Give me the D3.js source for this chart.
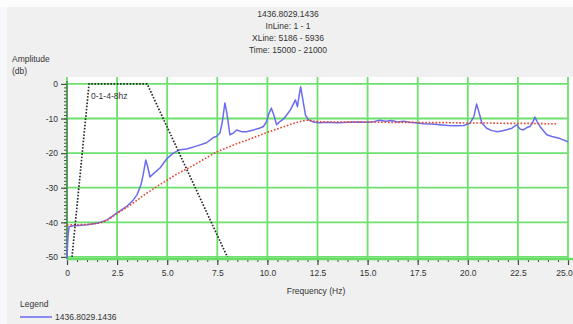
<!DOCTYPE html>
<html>
<head>
<meta charset="utf-8">
<script src="https://cdn.jsdelivr.net/npm/d3@7/dist/d3.min.js"></script>
<style>
  html, body { margin: 0; padding: 0; background: #f0f0f0; }
  svg { display: block; }
  text { font-family: "Liberation Sans", Arial, sans-serif; fill: #333; }
</style>
</head>
<body>
<svg id="chart" width="573" height="324"></svg>
<script>
// Header lines
const titleLines = ["1436.8029.1436", "InLine: 1 - 1", "XLine: 5186 - 5936", "Time: 15000 - 21000"];
const seriesName = "1436.8029.1436";
const filterLabel = "0-1-4-8hz";

// Tick values
const xTicks = [0, 2.5, 5.0, 7.5, 10.0, 12.5, 15.0, 17.5, 20.0, 22.5, 25.0];
const xTickLabels = ["0", "2.5", "5.0", "7.5", "10.0", "12.5", "15.0", "17.5", "20.0", "22.5", "25.0"];
const yTicks = [0, -10, -20, -30, -40, -50];
const yTickLabels = ["0", "-10", "-20", "-30", "-40", "-50"];

// Bandpass filter outline (Hz, dB)
const filterFreq = [0.25, 1.1, 4.0, 8.0];
const filterAmp = [-50, 0, 0, -50];

// Smoothed spectrum (Hz, dB)
const smoothFreq = [0, 0.5, 1.0, 1.5, 1.75, 2.0, 2.5, 3.0, 3.5, 4.0, 4.5, 5.0, 5.5, 6.0, 6.5, 7.0, 7.5, 8.0, 8.5, 9.0, 9.5, 10.0, 10.5, 11.0, 11.5, 12.0, 12.5, 13.0, 14.0, 15.0, 16.0, 17.0, 18.0, 19.0, 20.0, 21.0, 22.0, 23.0, 24.0, 24.5];
const smoothAmp = [-40.8, -40.7, -40.6, -40.3, -40.0, -39.4, -37.4, -35.6, -33.6, -31.5, -29.6, -27.8, -26.0, -24.5, -22.9, -21.2, -19.6, -18.4, -17.2, -16.2, -15.1, -14.0, -13.0, -12.0, -11.1, -10.5, -10.9, -11.0, -11.0, -11.0, -11.1, -11.1, -11.2, -11.2, -11.3, -11.3, -11.4, -11.4, -11.5, -11.5];

// Measured amplitude spectrum (Hz, dB)
const specFreq = [0, 0.05, 0.1, 0.3, 0.6, 1.0, 1.5, 2.0, 2.5, 3.0, 3.3, 3.5, 3.7, 3.8, 3.93, 4.02, 4.14, 4.3, 4.64, 5.0, 5.3, 5.64, 5.97, 6.5, 6.96, 7.3, 7.45, 7.63, 7.75, 7.88, 7.98, 8.13, 8.3, 8.47, 8.7, 8.97, 9.3, 9.6, 9.8, 9.95, 10.08, 10.2, 10.32, 10.46, 10.6, 10.8, 10.96, 11.15, 11.4, 11.5, 11.58, 11.66, 11.78, 11.9, 12.05, 12.3, 12.6, 13.0, 13.5, 14.0, 14.5, 15.0, 15.3, 15.6, 15.9, 16.2, 16.5, 16.8, 17.1, 17.4, 17.8, 18.2, 18.6, 19.0, 19.4, 19.8, 20.1, 20.3, 20.44, 20.55, 20.7, 20.94, 21.2, 21.5, 21.9, 22.2, 22.44, 22.6, 22.76, 22.95, 23.1, 23.25, 23.35, 23.45, 23.6, 23.94, 24.2, 24.6, 25.0];
const specAmp = [-50.5, -44.0, -41.3, -41.0, -40.9, -40.7, -40.3, -39.3, -37.3, -35.3, -33.6, -32.0, -29.0, -26.3, -22.0, -23.8, -26.9, -26.0, -24.3, -21.5, -20.0, -19.0, -18.8, -17.9, -17.0, -15.5, -15.2, -14.2, -11.0, -5.5, -8.5, -14.7, -14.2, -13.3, -13.8, -13.8, -13.3, -12.8, -12.3, -11.0, -8.5, -7.0, -9.0, -11.8, -11.0, -10.2, -9.0, -7.5, -4.6, -6.6, -3.5, -0.8, -5.0, -9.0, -10.4, -11.0, -11.2, -11.1, -11.2, -11.1, -11.0, -11.1, -10.9, -10.5, -10.8, -10.6, -11.0, -10.8, -11.1, -11.2, -11.5, -11.6, -11.8, -12.0, -12.1, -12.0, -11.4, -9.5, -5.8, -8.0, -11.3, -12.8, -13.5, -13.8, -13.3, -12.8, -11.8, -13.0, -13.3, -12.6, -12.3, -11.0, -9.6, -10.8, -12.3, -14.7, -15.2, -15.8, -16.7];

const svg = d3.select("#chart");
const W = 573, H = 324;
const plot = { left: 67, right: 568, top: 77, bottom: 259 };

const x = d3.scaleLinear().domain([0, 25]).range([plot.left, plot.right]);
const y = d3.scaleLinear().domain([-50.6, 2]).range([plot.bottom, plot.top]);

// Window background
svg.append("rect").attr("width", W).attr("height", H).attr("fill", "#f0f0f0");
svg.append("rect").attr("width", W).attr("height", 7).attr("fill", "#fdfdfd");
svg.append("rect").attr("x", 0).attr("y", 7).attr("width", 7).attr("height", H - 7).attr("fill", "#f6f8fb");

// Plot area
svg.append("rect")
  .attr("x", plot.left - 1).attr("y", plot.top)
  .attr("width", W - plot.left + 1).attr("height", plot.bottom - plot.top)
  .attr("fill", "#ffffff");

// Grid
const grid = svg.append("g").attr("stroke", "#6ee06e").attr("stroke-width", 1.8);
grid.selectAll("line.v").data(xTicks).join("line")
  .attr("x1", d => x(d)).attr("x2", d => x(d))
  .attr("y1", plot.top).attr("y2", plot.bottom);
grid.selectAll("line.h").data(yTicks).join("line")
  .attr("x1", plot.left).attr("x2", plot.right)
  .attr("y1", d => y(d)).attr("y2", d => y(d));

// Title
svg.append("g").selectAll("text").data(titleLines).join("text")
  .attr("x", 288).attr("y", (d, i) => 17 + i * 12)
  .attr("text-anchor", "middle").attr("font-size", 8.5)
  .text(d => d);

// Y axis title
svg.append("text").attr("x", 12).attr("y", 62).attr("font-size", 8.5).text("Amplitude");
svg.append("text").attr("x", 12).attr("y", 74).attr("font-size", 8.5).text("(db)");

// Y axis
const yMinor = d3.range(-50, 1, 1);
const yAxis = d3.axisLeft(y).tickValues(yMinor).tickSize(3).tickFormat("");
const gy = svg.append("g").attr("transform", `translate(${plot.left},0)`).call(yAxis);
gy.select(".domain").remove();
gy.selectAll(".tick line").attr("stroke", "#3a5a3a").attr("stroke-width", 1);
const yMajor = d3.axisLeft(y).tickValues(yTicks).tickSize(6)
  .tickFormat((d, i) => yTickLabels[i]).tickPadding(3);
const gy2 = svg.append("g").attr("transform", `translate(${plot.left},0)`).call(yMajor);
gy2.select(".domain").remove();
gy2.selectAll(".tick line").attr("stroke", "#3a5a3a").attr("stroke-width", 1.2);
gy2.selectAll(".tick text").attr("font-size", 8.5).attr("fill", "#333")
  .attr("font-family", "Liberation Sans, Arial, sans-serif");
svg.append("line").attr("x1", plot.left).attr("x2", plot.left)
  .attr("y1", plot.top + 4).attr("y2", plot.bottom)
  .attr("stroke", "#4d8a4d").attr("stroke-width", 1.5);

// X axis
const xMinor = d3.range(0, 25.01, 0.5);
const xAxis = d3.axisBottom(x).tickValues(xMinor).tickSize(3).tickFormat("");
const gx = svg.append("g").attr("transform", `translate(0,${plot.bottom})`).call(xAxis);
gx.select(".domain").remove();
gx.selectAll(".tick line").attr("stroke", "#3a4a3a");
const xMajor = d3.axisBottom(x).tickValues(xTicks).tickSize(6)
  .tickFormat((d, i) => xTickLabels[i]).tickPadding(5);
const gx2 = svg.append("g").attr("transform", `translate(0,${plot.bottom})`).call(xMajor);
gx2.select(".domain").remove();
gx2.selectAll(".tick line").attr("stroke", "#3a4a3a").attr("stroke-width", 1.2);
gx2.selectAll(".tick text").attr("font-size", 8.5).attr("fill", "#333")
  .attr("font-family", "Liberation Sans, Arial, sans-serif")
  .attr("dx", (d, i) => i === xTicks.length - 1 ? -4 : 0);
svg.append("line").attr("x1", plot.left).attr("x2", W)
  .attr("y1", plot.bottom).attr("y2", plot.bottom)
  .attr("stroke", "#66dd66").attr("stroke-width", 2.5);

svg.append("text").attr("x", 316).attr("y", 294).attr("text-anchor", "middle")
  .attr("font-size", 8.5).text("Frequency (Hz)");

// Curves
const line = d3.line().x(d => x(d[0])).y(d => y(d[1]));

const specPts = specFreq.map((f, i) => [f, specAmp[i]]);
svg.append("path").datum(specPts).attr("d", line)
  .attr("fill", "none").attr("stroke", "#6b6bf0").attr("stroke-width", 1.5)
  .attr("stroke-linejoin", "round");

const smoothPts = smoothFreq.map((f, i) => [f, smoothAmp[i]]);
svg.append("path").datum(smoothPts).attr("d", d3.line().curve(d3.curveMonotoneX).x(d => x(d[0])).y(d => y(d[1])))
  .attr("fill", "none").attr("stroke", "#e8452e").attr("stroke-width", 1.6)
  .attr("stroke-dasharray", "1.6,1.8");

const filterPts = filterFreq.map((f, i) => [f, filterAmp[i]]);
svg.append("path").datum(filterPts).attr("d", line)
  .attr("fill", "none").attr("stroke", "#2a2a2a").attr("stroke-width", 1.7)
  .attr("stroke-dasharray", "1.6,1.6");

svg.append("text").attr("x", x(1.2)).attr("y", y(-4.5)).attr("font-size", 8.5)
  .text(filterLabel);

// Legend
svg.append("text").attr("x", 20).attr("y", 307).attr("font-size", 8.5).text("Legend");
svg.append("line").attr("x1", 20).attr("x2", 52).attr("y1", 317).attr("y2", 317)
  .attr("stroke", "#6b6bf0").attr("stroke-width", 1.5);
svg.append("text").attr("x", 55).attr("y", 320).attr("font-size", 8.5).text(seriesName);
</script>
</body>
</html>
